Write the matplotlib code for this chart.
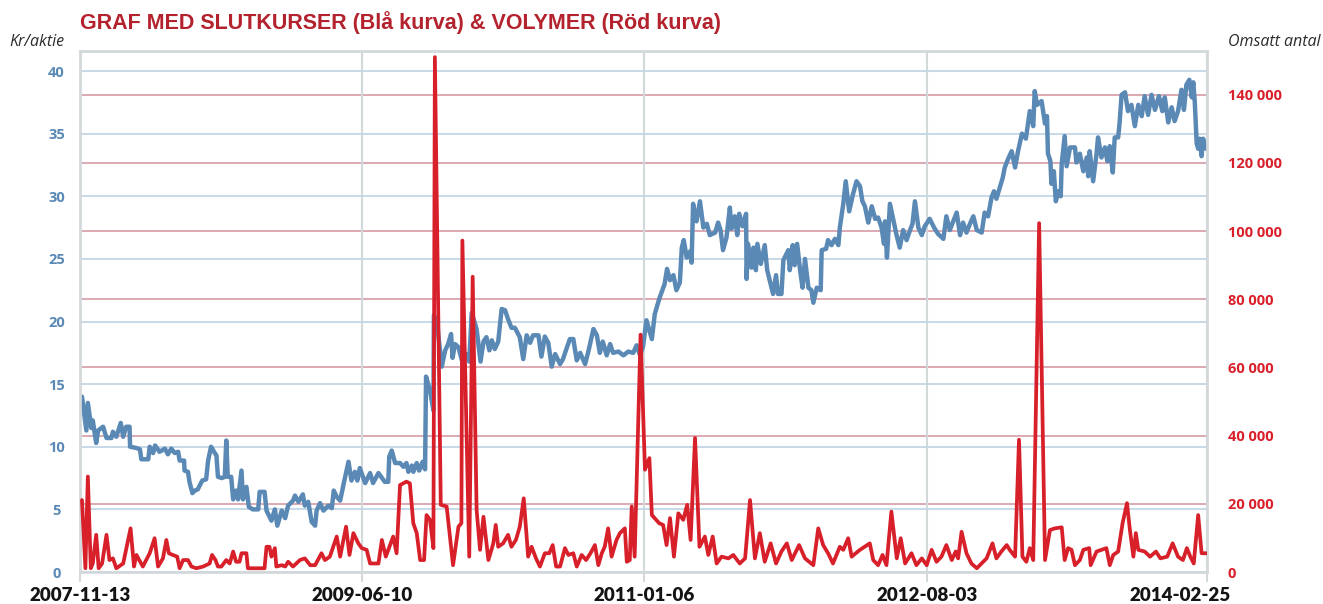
import pandas as pd
import matplotlib
matplotlib.use('Agg')
import matplotlib.pyplot as plt
import matplotlib.transforms as mtransforms
from matplotlib.ticker import FuncFormatter

START = pd.Timestamp('2007-11-13')
END = pd.Timestamp('2014-02-25')
DATE_TICKS = ['2007-11-13', '2009-06-10', '2011-01-06', '2012-08-03', '2014-02-25']
PRICE_TICKS = [0, 5, 10, 15, 20, 25, 30, 35, 40]
VOLUME_TICKS = [0, 20000, 40000, 60000, 80000, 100000, 120000, 140000]

# slutkurs (kr/aktie), dagar efter 2007-11-13
PRICE_DAYS = [
    4, 13, 16, 23, 26, 33, 37, 47, 54, 64,
    67, 74, 83, 88, 94, 101, 102, 115, 122, 125,
    139, 142, 149, 153, 162, 173, 179, 186, 193, 200,
    203, 212, 213, 220, 223, 229, 234, 240, 249, 257,
    261, 267, 273, 278, 281, 289, 295, 298, 301, 308,
    312, 318, 322, 329, 332, 339, 344, 352, 363, 366,
    376, 380, 390, 397, 402, 411, 418, 424, 434, 438,
    445, 454, 458, 465, 472, 479, 482, 489, 496, 506,
    513, 517, 523, 530, 538, 547, 553, 560, 565, 570,
    581, 591, 597, 608, 621, 628, 630, 635, 642, 652,
    659, 665, 669, 676, 679, 686, 691, 698, 703, 705,
    713, 720, 721, 727, 732, 737, 744, 750, 756, 759,
    764, 771, 778, 788, 793, 798, 808, 816, 822, 828,
    834, 839, 845, 852, 859, 866, 872, 879, 886, 896,
    903, 910, 917, 923, 934, 940, 947, 954, 961, 968,
    978, 984, 990, 998, 1005, 1012, 1019, 1029, 1035, 1046,
    1053, 1059, 1065, 1073, 1080, 1086, 1097, 1107, 1117, 1127,
    1134, 1141, 1147, 1154, 1165, 1171, 1180, 1191, 1196, 1202,
    1209, 1215, 1222, 1226, 1230, 1236, 1243, 1246, 1249, 1256,
    1263, 1270, 1277, 1283, 1294, 1300, 1305, 1310, 1317, 1324,
    1327, 1334, 1339, 1343, 1350, 1357, 1358, 1361, 1368, 1372,
    1377, 1380, 1387, 1395, 1400, 1407, 1412, 1418, 1422, 1429,
    1433, 1443, 1446, 1452, 1456, 1461, 1467, 1472, 1477, 1484,
    1490, 1494, 1501, 1509, 1511, 1520, 1524, 1531, 1538, 1545,
    1548, 1555, 1560, 1567, 1575, 1582, 1589, 1594, 1599, 1606,
    1613, 1620, 1626, 1633, 1638, 1640, 1644, 1650, 1656, 1663,
    1670, 1677, 1684, 1691, 1696, 1701, 1708, 1715, 1721, 1731,
    1740, 1748, 1759, 1765, 1772, 1779, 1786, 1793, 1799, 1806,
    1813, 1820, 1827, 1837, 1843, 1850, 1857, 1862, 1867, 1874,
    1880, 1884, 1891, 1898, 1905, 1911, 1919, 1927, 1935, 1942,
    1945, 1950, 1959, 1966, 1970, 1972, 1977, 1979, 1984, 1988,
    1993, 1998, 2000, 2006, 2010, 2017, 2027, 2030, 2037, 2044,
    2051, 2054, 2057, 2064, 2071, 2074, 2081, 2088, 2093, 2098,
    2104, 2108, 2115, 2118, 2122, 2129, 2135, 2142, 2149, 2156,
    2163, 2169, 2176, 2183, 2190, 2198, 2205, 2210, 2217, 2224,
    2230, 2237, 2244, 2249, 2254, 2260, 2265, 2268, 2271, 2275,
    2278, 2281, 2285, 2288, 2294,
]
PRICE = [
    14.0, 11.3, 13.5, 11.5, 12.1, 10.3, 11.3, 11.6, 10.7, 10.7,
    11.2, 10.8, 11.9, 10.8, 11.6, 11.6, 10.0, 9.9, 9.8, 9.0,
    9.0, 10.0, 9.5, 10.1, 9.6, 9.85, 9.4, 9.85, 9.5, 9.6,
    8.9, 8.9, 8.1, 8.0, 7.2, 6.3, 6.5, 6.6, 7.3, 7.4,
    8.9, 10.0, 9.6, 9.3, 7.6, 7.5, 7.6, 10.5, 7.6, 7.6,
    5.8, 6.5, 5.8, 8.1, 5.8, 6.8, 5.2, 5.0, 5.0, 6.4,
    6.4, 4.9, 4.1, 5.0, 3.7, 4.9, 4.3, 5.3, 5.7, 6.1,
    5.6, 6.2, 5.3, 5.6, 4.0, 3.7, 4.9, 5.5, 4.9, 5.3,
    5.1, 6.5, 6.0, 5.7, 7.2, 8.8, 7.3, 8.0, 7.3, 8.3,
    7.1, 7.9, 7.1, 7.9, 7.2, 7.2, 9.2, 9.7, 8.7, 8.7,
    8.4, 8.7, 8.0, 8.5, 8.0, 8.7, 8.1, 8.8, 8.2, 15.6,
    14.5, 12.9, 20.5, 20.1, 18.2, 16.4, 17.7, 18.2, 19.0, 17.1,
    18.2, 17.95, 16.9, 17.4, 16.8, 20.7, 19.4, 16.8, 18.4, 18.75,
    17.7, 18.5, 17.8, 18.4, 21.0, 20.9, 20.2, 19.5, 19.5, 18.75,
    17.0, 18.9, 18.3, 18.9, 18.9, 17.2, 18.8, 18.3, 16.4, 17.4,
    16.6, 17.0, 17.7, 18.6, 18.6, 16.9, 17.5, 16.6, 17.5, 19.4,
    18.9, 17.5, 18.4, 17.3, 18.2, 17.5, 17.6, 17.3, 17.6, 17.5,
    18.1, 17.3, 18.0, 20.1, 18.6, 20.6, 21.8, 23.0, 24.2, 23.3,
    23.7, 22.5, 23.1, 25.9, 26.5, 25.1, 25.6, 24.7, 29.4, 28.0,
    29.6, 27.5, 27.8, 26.9, 27.1, 27.9, 27.3, 25.7, 26.7, 29.1,
    27.4, 28.4, 26.9, 28.6, 27.6, 28.6, 23.4, 26.2, 24.3, 25.9,
    24.1, 26.2, 24.6, 26.1, 24.1, 23.0, 22.2, 23.7, 22.2, 22.2,
    24.9, 25.7, 24.1, 26.1, 24.5, 26.2, 24.1, 22.7, 25.0, 22.7,
    22.5, 21.5, 22.7, 22.5, 25.7, 25.8, 26.5, 26.1, 26.6, 26.1,
    27.5, 29.4, 31.2, 28.8, 30.2, 31.2, 30.8, 29.6, 29.2, 27.9,
    29.2, 28.2, 28.3, 27.5, 26.2, 28.0, 25.1, 29.4, 28.3, 27.0,
    25.9, 27.3, 26.5, 27.3, 27.8, 29.6, 27.5, 26.9, 27.6, 28.2,
    27.5, 27.0, 26.6, 28.4, 27.3, 28.0, 28.7, 26.9, 27.9, 27.1,
    27.8, 28.4, 27.3, 27.1, 28.7, 28.4, 29.9, 30.4, 29.8, 30.7,
    31.5, 32.3, 33.0, 33.6, 32.3, 33.6, 35.0, 34.6, 36.8, 35.6,
    38.4, 37.3, 37.6, 35.8, 36.4, 33.4, 32.8, 31.0, 32.0, 29.6,
    30.4, 30.0, 32.6, 34.8, 32.4, 33.9, 33.9, 32.7, 33.4, 32.0,
    33.1, 31.6, 33.6, 31.2, 33.4, 34.7, 33.1, 33.9, 32.8, 34.0,
    31.9, 34.7, 34.7, 35.9, 38.1, 38.3, 36.8, 37.3, 35.6, 37.3,
    36.4, 38.0, 36.5, 38.1, 36.9, 38.0, 36.8, 37.9, 35.9, 37.1,
    36.0, 36.8, 38.5, 36.9, 38.9, 39.3, 37.9, 39.1, 37.6, 34.2,
    33.8, 34.6, 33.2, 34.6, 33.8,
]

# omsatt antal aktier
VOLUME_DAYS = [
    4, 11, 16, 22, 26, 33, 38, 45, 54, 60,
    67, 74, 88, 103, 110, 115, 128, 142, 152, 159,
    169, 176, 181, 189, 198, 203, 210, 220, 227, 237,
    251, 264, 269, 276, 281, 288, 298, 305, 312, 318,
    325, 329, 339, 342, 376, 380, 386, 390, 397, 400,
    411, 418, 424, 434, 448, 458, 469, 479, 492, 499,
    509, 523, 530, 542, 549, 557, 567, 574, 584, 591,
    608, 615, 623, 638, 645, 652, 665, 672, 679, 686,
    693, 701, 706, 713, 720, 723, 735, 747, 760, 771,
    777, 779, 793, 800, 808, 815, 822, 832, 842, 847,
    852, 862, 872, 879, 888, 896, 904, 913, 920, 929,
    937, 947, 956, 963, 970, 978, 988, 995, 1005, 1012,
    1022, 1031, 1040, 1049, 1056, 1063, 1069, 1076, 1083, 1093,
    1100, 1110, 1114, 1120, 1124, 1130, 1142, 1151, 1160, 1165,
    1180, 1188, 1195, 1202, 1210, 1219, 1229, 1237, 1244, 1253,
    1262, 1273, 1280, 1289, 1297, 1307, 1321, 1331, 1344, 1355,
    1365, 1375, 1385, 1395, 1407, 1418, 1429, 1440, 1450, 1465,
    1477, 1494, 1504, 1514, 1524, 1534, 1548, 1555, 1565, 1572,
    1589, 1609, 1616, 1626, 1635, 1643, 1653, 1664, 1672, 1681,
    1694, 1704, 1715, 1725, 1735, 1745, 1755, 1765, 1776, 1784,
    1789, 1796, 1806, 1816, 1827, 1847, 1859, 1867, 1877, 1888,
    1894, 1905, 1913, 1920, 1928, 1935, 1942, 1954, 1966, 1976,
    1986, 2000, 2006, 2013, 2020, 2027, 2037, 2044, 2056, 2059,
    2071, 2091, 2098, 2105, 2115, 2124, 2133, 2139, 2146, 2151,
    2156, 2169, 2180, 2192, 2201, 2215, 2226, 2237, 2247, 2255,
    2262, 2269, 2278, 2285, 2295,
]
VOLUME = [
    21100, 1100, 28000, 1100, 2500, 10900, 1100, 2500, 10900, 3500,
    4000, 1100, 2500, 12800, 1600, 5000, 1600, 5500, 9900, 1600,
    4000, 9400, 5500, 5000, 4500, 1100, 3500, 3500, 1600, 1100,
    1600, 2500, 5000, 3500, 1600, 1600, 3500, 2500, 6000, 3000,
    3000, 5500, 5500, 1100, 1100, 7400, 7400, 4500, 7000, 1600,
    2000, 1600, 3000, 1600, 3500, 4000, 2000, 2000, 5500, 3500,
    4500, 10400, 4500, 13300, 5000, 11400, 8400, 7000, 6500, 2500,
    2500, 9400, 4500, 10400, 5500, 25500, 26500, 26000, 14300, 11400,
    3500, 3500, 16700, 15300, 7000, 151000, 19700, 19200, 2000, 13300,
    14300, 97200, 4500, 86600, 18200, 6500, 16200, 3500, 8400, 13800,
    7400, 8400, 10900, 7400, 9400, 13300, 21600, 4500, 7400, 4000,
    1600, 5500, 5500, 7900, 1600, 1600, 7000, 5000, 5500, 1600,
    5000, 3500, 5500, 7900, 2000, 5500, 7400, 12800, 4500, 9400,
    11400, 12800, 3000, 3500, 19200, 4500, 69600, 30000, 33400, 16700,
    14300, 13800, 7900, 15800, 4500, 17200, 15300, 19700, 9400, 39300,
    7400, 10400, 5000, 10400, 2500, 4500, 4000, 5000, 2500, 4000,
    21100, 4000, 11400, 3000, 8400, 2500, 6000, 8400, 3500, 7900,
    4000, 2000, 12800, 7900, 5500, 2500, 7400, 6500, 9900, 4500,
    6500, 8400, 3500, 2000, 5000, 2000, 17700, 4000, 9900, 2500,
    5500, 2000, 4000, 2000, 6500, 3000, 4500, 7900, 3500, 6000,
    4000, 11800, 5500, 2500, 1100, 4000, 8400, 4000, 6000, 7900,
    6500, 4500, 38800, 4500, 3000, 7000, 3500, 102300, 3500, 12300,
    12800, 13100, 3500, 7000, 6500, 2000, 3500, 6500, 7000, 2000,
    6000, 7000, 2000, 5000, 6000, 14300, 20200, 12300, 4500, 11400,
    6500, 6000, 4500, 6000, 4000, 4500, 8400, 4500, 3500, 7000,
    4500, 2500, 16700, 5500, 5500,
]

BLUE = '#5a89b5'
RED = '#d8202b'
TITLE_RED = '#b3222d'
FRAME = '#d3d8db'

price_dates = START + pd.to_timedelta(PRICE_DAYS, unit='D')
volume_dates = START + pd.to_timedelta(VOLUME_DAYS, unit='D')
tick_dates = pd.to_datetime(DATE_TICKS)

fig = plt.figure(figsize=(13.23, 6.04), dpi=100)
rect = [80 / 1323, 1 - 572 / 604, 1127 / 1323, 521 / 604]

# bakgrund: röda stödlinjer + högeraxel
ax_bg = fig.add_axes(rect, zorder=0)
ax = fig.add_axes(rect, zorder=1)
ax_v = fig.add_axes(rect, zorder=2)

for a in (ax_bg, ax, ax_v):
    a.set_xlim(START, END)
ax_bg.set_ylim(0, 152800)
ax_v.set_ylim(0, 152800)
ax.set_ylim(0, 41.6)

ax.patch.set_visible(False)
ax_v.patch.set_visible(False)

# högeraxel
ax_bg.set_xticks([])
ax_bg.yaxis.tick_right()
ax_bg.set_yticks(VOLUME_TICKS)
ax_bg.yaxis.set_major_formatter(
    FuncFormatter(lambda v, p: f'{v:,.0f}'.replace(',', ' ')))
ax_bg.tick_params(axis='y', length=0, pad=15, labelcolor=RED,
                  labelsize=10.5)
for lab in ax_bg.get_yticklabels():
    lab.set_fontfamily('Open Sans')
    lab.set_fontweight('bold')
ax_bg.grid(axis='y', color='#d9a3ab', linewidth=1.3)
for s in ax_bg.spines.values():
    s.set_visible(False)

# vänsteraxel + blå kurva
ax.plot(price_dates, PRICE, color=BLUE, linewidth=3.2,
        solid_joinstyle='round', solid_capstyle='round')
ax.set_yticks(PRICE_TICKS)
ax.set_xticks(tick_dates)
ax.set_xticklabels(DATE_TICKS)
ax.grid(axis='y', color='#c3d7e6', linewidth=1.3)
ax.grid(axis='x', color=FRAME, linewidth=1.5)
ax.tick_params(axis='y', length=0, pad=17, labelcolor=BLUE, labelsize=10.5)
ax.tick_params(axis='x', direction='out', length=7, width=1.5,
               color=FRAME, pad=4, labelsize=13.5, labelcolor='#141414')
for lab in ax.get_yticklabels():
    lab.set_fontfamily('Open Sans')
    lab.set_fontweight('bold')
    lab.set_horizontalalignment('center')
for lab in ax.get_xticklabels():
    lab.set_fontfamily('Lato')
    lab.set_fontweight('heavy')
last = ax.get_xticklabels()[-1]
last.set_transform(last.get_transform() +
                   mtransforms.ScaledTranslation(-0.27, 0, fig.dpi_scale_trans))
for s in ax.spines.values():
    s.set_color(FRAME)
    s.set_linewidth(2)

# röd kurva
ax_v.plot(volume_dates, VOLUME, color=RED, linewidth=2.7,
          solid_joinstyle='round', solid_capstyle='round')
ax_v.set_xticks([])
ax_v.set_yticks([])
for s in ax_v.spines.values():
    s.set_visible(False)

fig.text(80 / 1323, 1 - 23 / 604,
         'GRAF MED SLUTKURSER (Blå kurva) & VOLYMER (Röd kurva)',
         color=TITLE_RED, fontsize=15.5, fontweight='bold',
         family='Liberation Sans', ha='left', va='center')
fig.text(9 / 1323, 1 - 42 / 604, 'Kr/aktie', fontsize=11.5,
         style='italic', family='Open Sans', color='#2b2b2b',
         ha='left', va='center')
fig.text(1228 / 1323, 1 - 42 / 604, 'Omsatt antal', fontsize=11.5,
         style='italic', family='Open Sans', color='#2b2b2b',
         ha='left', va='center')

fig.savefig('out.png', dpi=100)
